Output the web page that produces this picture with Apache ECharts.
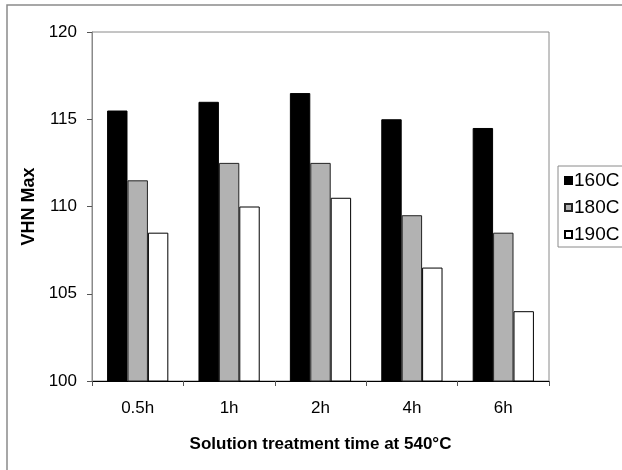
<!DOCTYPE html>
<html>
<head>
<meta charset="utf-8">
<script src="https://cdn.jsdelivr.net/npm/echarts@6/dist/echarts.min.js"></script>
<style>
html,body{margin:0;padding:0;background:#fff;}
#chart{width:622px;height:470px;}
</style>
</head>
<body>
<div id="chart"></div>
<script>
var categories = ['0.5h', '1h', '2h', '4h', '6h'];
var series160 = [115.5, 116, 116.5, 115, 114.5];
var series180 = [111.5, 112.5, 112.5, 109.5, 108.5];
var series190 = [108.5, 110, 110.5, 106.5, 104];
var seriesNames = ['160C', '180C', '190C'];

var FONT = 'Liberation Sans, Arial, sans-serif';
var chart = echarts.init(document.getElementById('chart'), null, {renderer: 'canvas'});

function barSeries(name, data, color, border) {
  return {
    name: name,
    type: 'bar',
    data: data,
    barGap: '0%',
    barCategoryGap: '33%',
    itemStyle: {color: color, borderColor: border, borderWidth: 1}
  };
}

chart.setOption({
  animation: false,
  backgroundColor: '#fff',
  graphic: [{
    type: 'rect',
    shape: {x: 7, y: 5, width: 640, height: 500},
    style: {fill: 'none', stroke: '#8a8a8a', lineWidth: 1.5},
    z: -1
  }],
  grid: {
    left: 92, right: 73, top: 32, bottom: 89,
    show: true, borderColor: '#8a8a8a', borderWidth: 1
  },
  legend: {
    orient: 'vertical',
    left: 558, top: 166,
    data: seriesNames,
    icon: 'rect',
    itemWidth: 7, itemHeight: 7,
    itemGap: 8,
    padding: [5, 20, 3, 6],
    borderColor: '#8a8a8a', borderWidth: 1,
    textStyle: {fontFamily: FONT, fontSize: 19, color: '#000', padding: [0, 0, 0, -3]}
  },
  xAxis: {
    type: 'category',
    data: categories,
    name: 'Solution treatment time at 540°C',
    nameLocation: 'middle',
    nameGap: 55,
    nameTextStyle: {fontFamily: FONT, fontSize: 17, fontWeight: 'bold', color: '#000'},
    axisLine: {lineStyle: {color: '#000', width: 1}},
    axisTick: {show: true, length: 5, lineStyle: {color: '#555'}},
    axisLabel: {fontFamily: FONT, fontSize: 17, color: '#000', margin: 19}
  },
  yAxis: {
    type: 'value',
    min: 100, max: 120, interval: 5,
    name: 'VHN Max',
    nameLocation: 'middle',
    nameGap: 52,
    nameTextStyle: {fontFamily: FONT, fontSize: 18, fontWeight: 'bold', color: '#000'},
    axisLine: {show: true, lineStyle: {color: '#8a8a8a', width: 1}},
    axisTick: {show: true, length: 5, lineStyle: {color: '#555'}},
    axisLabel: {fontFamily: FONT, fontSize: 17, color: '#000', margin: 15},
    splitLine: {show: false}
  },
  series: [
    barSeries(seriesNames[0], series160, '#000000', '#000000'),
    barSeries(seriesNames[1], series180, '#b2b2b2', '#222222'),
    barSeries(seriesNames[2], series190, '#ffffff', '#000000')
  ]
});
</script>
</body>
</html>
